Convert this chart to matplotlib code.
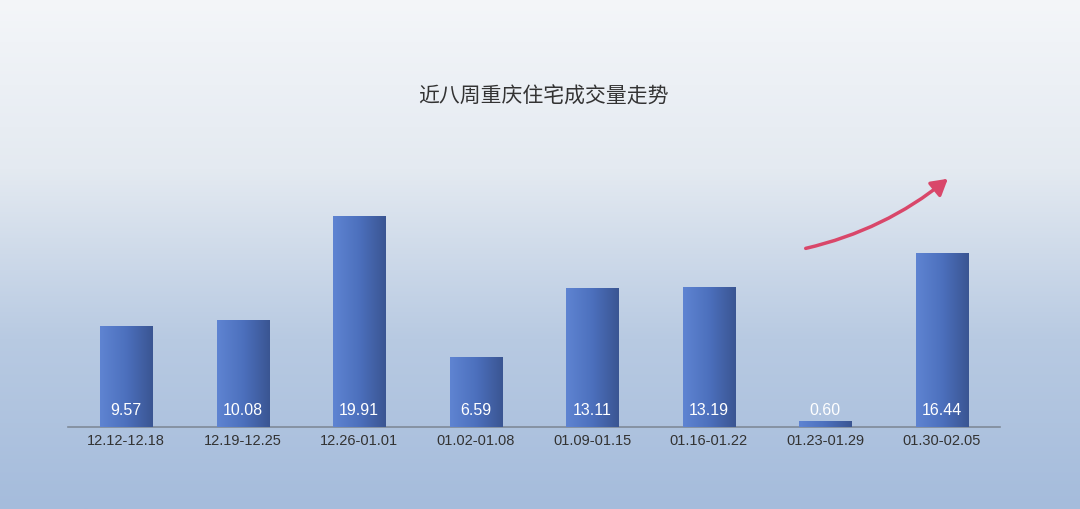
import numpy as np
import matplotlib
matplotlib.use("Agg")
import matplotlib.pyplot as plt
from matplotlib.colors import LinearSegmentedColormap

plt.rcParams['font.family'] = ['Liberation Sans', 'Noto Sans CJK SC', 'DejaVu Sans']

title = "近八周重庆住宅成交量走势"
categories = ["12.12-12.18", "12.19-12.25", "12.26-01.01", "01.02-01.08",
              "01.09-01.15", "01.16-01.22", "01.23-01.29", "01.30-02.05"]
values = [9.57, 10.08, 19.91, 6.59, 13.11, 13.19, 0.60, 16.44]

fig = plt.figure(figsize=(10.8, 5.1), dpi=100)

# background gradient
bg = fig.add_axes([0, 0, 1, 1], zorder=0)
bg_cmap = LinearSegmentedColormap.from_list("bg", ["#f4f6f9", "#e4eaf1", "#b8cae2", "#a5bcdc"])
grad = np.linspace(0, 1, 256).reshape(-1, 1)
bg.imshow(grad, aspect='auto', cmap=bg_cmap, extent=[0, 1, 0, 1], origin='upper')
bg.set_axis_off()

ax = fig.add_axes([68/1080, 82/510, 932/1080, 233/510], zorder=1)
ax.patch.set_alpha(0)
x = np.arange(len(categories))
bars = ax.bar(x, values, width=0.45, color="#4b6db6", zorder=2)

bar_cmap = LinearSegmentedColormap.from_list("bar", ["#5f84d2", "#4c70bd", "#3a5592"])
hgrad = np.linspace(0, 1, 256).reshape(1, -1)
for b in bars:
    x0, y0 = b.get_x(), b.get_y()
    w, h = b.get_width(), b.get_height()
    im = ax.imshow(hgrad, aspect='auto', cmap=bar_cmap,
                   extent=[x0, x0 + w, y0, y0 + h], zorder=3)
    im.set_clip_path(b)

ax.set_xlim(-0.5, len(categories) - 0.5)
ax.set_ylim(0, 22)

for xi, v in zip(x, values):
    ax.text(xi, 0.9, f"{v:.2f}", ha='center', va='bottom', color='white',
            fontsize=11.5, zorder=5)

for s in ['top', 'right', 'left']:
    ax.spines[s].set_visible(False)
ax.spines['bottom'].set_color('#7f8a99')
ax.spines['bottom'].set_linewidth(1.2)
ax.set_yticks([])
ax.set_xticks(x)
ax.set_xticklabels(categories, fontsize=10.5, color='#333333')
ax.tick_params(axis='x', length=0, pad=4)

fig.text(543/1080, 1 - 97/510, title, ha='center', va='center',
         fontsize=15, color='#333333', family=['Noto Sans CJK SC', 'DejaVu Sans'])

# decorative trend arrow
fig.add_artist(matplotlib.patches.FancyArrowPatch(
    (803/1080, 1 - 250/510), (950/1080, 1 - 178/510),
    transform=fig.transFigure, connectionstyle="arc3,rad=0.12",
    arrowstyle="-|>,head_length=6,head_width=3.5", color="#d9476a",
    linewidth=2.5, mutation_scale=1.6, zorder=6))

fig.savefig("out.png", dpi=100)
